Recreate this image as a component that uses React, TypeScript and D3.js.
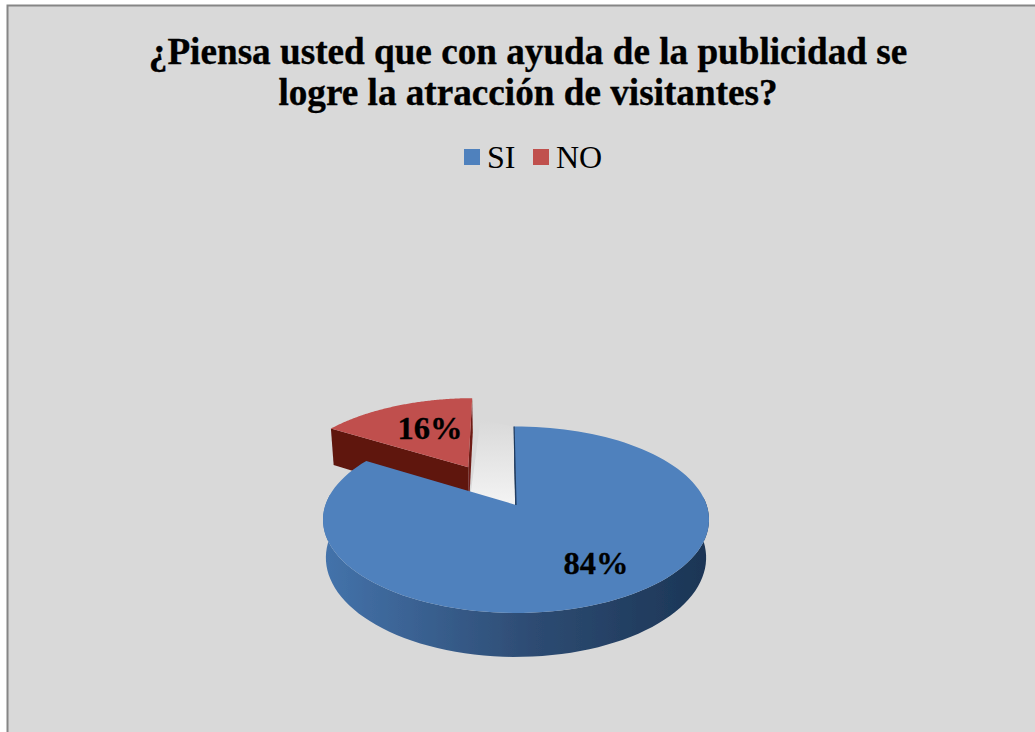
import React from "react";
import * as d3 from "d3";

const titleLines = ["¿Piensa usted que con ayuda de la publicidad se", "logre la atracción de visitantes?"];
const categories = ["SI", "NO"];
const values = [84, 16];
const labels = ["84%", "16%"];
const colors = ["#4F81BD", "#C0504D"];
const sideStops = [
  ["#4473AB", "#2D4B72", "#1B3555"],
  ["#6E1A14", "#5E1510", "#5A1410"],
];

const W = 1035, H = 732;
const cx = 516, apexY = 505, B = 190.6, A = 90.9, k = 0.158, explode = 0.51;
const depths = [37, 42];
const nudgeX = [0, -3];
const rotation = -0.012;
const bottomScale = 0.985;

function project(u: number, v: number, drop = 0, nudge = 0): [number, number] {
  const w = 1 + k * v;
  const s = drop > 0 ? bottomScale : 1;
  return [cx + nudge + (B * u * s) / w, apexY - (A * v) / w + drop / w];
}

export default function App() {
  const pie = d3.pie<number>().sort(null).startAngle(rotation).endAngle(2 * Math.PI + rotation);
  const arcs = pie(values);
  const line = d3.line();

  const shapes = arcs.map((a, i) => {
    const mid = (a.startAngle + a.endAngle) / 2;
    const off = i === 1 ? explode : 0;
    const du = off * Math.sin(mid), dv = off * Math.cos(mid);
    const n = nudgeX[i], depth = depths[i];
    const angles = d3.range(0, 121).map((j) => a.startAngle + ((a.endAngle - a.startAngle) * j) / 120);
    const rim = (t: number, drop = 0) => project(Math.sin(t) + du, Math.cos(t) + dv, drop, n);
    const apex = (drop = 0) => project(du, dv, drop, n);
    const top = line([apex(), ...angles.map((t) => rim(t))]) + "Z";
    const frontAngles = angles.filter((t) => Math.cos(t) < 0.12);
    const wall = line([...frontAngles.map((t) => rim(t)), ...frontAngles.slice().reverse().map((t) => rim(t, depth))]) + "Z";
    const cutStart = line([apex(), rim(a.startAngle), rim(a.startAngle, depth), apex(depth)]) + "Z";
    const cutEnd = line([apex(), rim(a.endAngle), rim(a.endAngle, depth), apex(depth)]) + "Z";
    const edge = line([rim(a.startAngle), apex()]) as string;
    return { top, wall, cutStart, cutEnd, edge, rimTop: rim(arcs[1].endAngle), apexPt: apex(), apexLow: apex(depth) };
  });

  const blue = shapes[0], red = shapes[1];

  const gap = line([
    project(-0.2, 1.1, 0, -3),
    blue.rimTop,
    blue.apexPt,
    red.apexLow,
  ]) + "Z";

  return (
    <svg width={W} height={H} style={{ position: "absolute", left: 0, top: 0 }}>
      <defs>
        <linearGradient id="side0" gradientUnits="userSpaceOnUse" x1={323} x2={709} y1={0} y2={0}>
          <stop offset="0" stopColor={sideStops[0][0]} />
          <stop offset="0.55" stopColor={sideStops[0][1]} />
          <stop offset="1" stopColor={sideStops[0][2]} />
        </linearGradient>
        <linearGradient id="gapFill" gradientUnits="userSpaceOnUse" x1={0} x2={0} y1={420} y2={500}>
          <stop offset="0" stopColor="#D9D9D9" />
          <stop offset="1" stopColor="#F2F2F2" />
        </linearGradient>
        <filter id="soft" x="-5%" y="-5%" width="110%" height="110%">
          <feGaussianBlur stdDeviation="0.7" />
        </filter>
      </defs>
      <rect x={0} y={0} width={W} height={H} fill="#fff" />
      <rect x={7.5} y={5.5} width={W + 20} height={H + 20} fill="#D9D9D9" stroke="#868686" strokeWidth={2} />

      {titleLines.map((t, i) => (
        <text key={t} x={528} y={64 + i * 41} textAnchor="middle" fontFamily="Liberation Serif" fontWeight="bold" fontSize={37.2} fill="#000" stroke="#000" strokeWidth={0.35}>
          {t}
        </text>
      ))}

      {[0, 1].map((i) => (
        <rect key={i} x={[464, 533][i]} y={149} width={16} height={16} fill={colors[i]} />
      ))}
      {categories.map((c, i) => (
        <text key={c} x={[487, 556][i]} y={168} fontFamily="Liberation Serif" fontSize={32} fill="#000">
          {c}
        </text>
      ))}

      <g filter="url(#soft)">
        <path d={gap} fill="url(#gapFill)" />
        <path d={red.wall} fill={sideStops[1][0]} />
        <path d={red.cutEnd} fill={sideStops[1][0]} />
        <path d={red.cutStart} fill={sideStops[1][1]} />
        <path d={red.top} fill={colors[1]} />
        <path d={blue.wall} fill="url(#side0)" />
        <path d={blue.cutStart} fill="#1B3555" />
        <path d={blue.top} fill={colors[0]} />
        <path d={blue.edge} fill="none" stroke="#1F3A5F" strokeWidth={1.2} />
      </g>

      <text x={596} y={574} textAnchor="middle" fontFamily="Liberation Serif" fontWeight="bold" fontSize={32.5} fill="#000" stroke="#000" strokeWidth={0.3}>{labels[0]}</text>
      <text x={430} y={439} textAnchor="middle" fontFamily="Liberation Serif" fontWeight="bold" fontSize={32.5} fill="#000" stroke="#000" strokeWidth={0.3}>{labels[1]}</text>
    </svg>
  );
}
